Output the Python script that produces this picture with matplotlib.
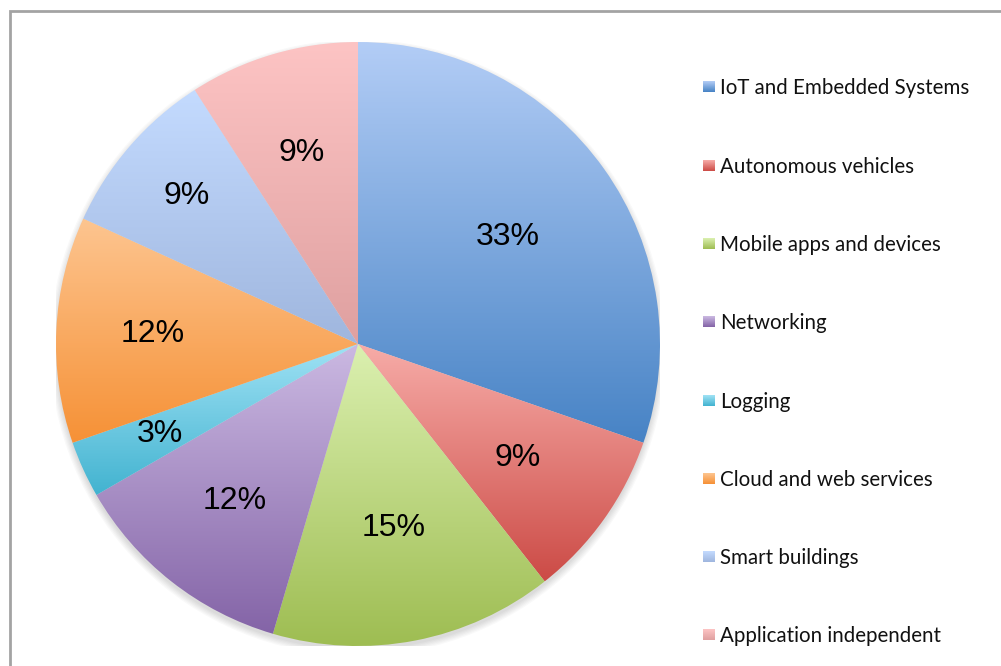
import numpy as np
import matplotlib.pyplot as plt
from matplotlib.colors import LinearSegmentedColormap
from matplotlib.patches import Circle

# slice sizes (number of papers), clockwise from 12 o'clock
categories = ['IoT and Embedded Systems', 'Autonomous vehicles', 'Mobile apps and devices',
              'Networking', 'Logging', 'Cloud and web services', 'Smart buildings',
              'Application independent']
counts = [10, 3, 5, 4, 1, 4, 3, 3]
pct_labels = ['33%', '9%', '15%', '12%', '3%', '12%', '9%', '9%']
# how far out each label sits (fraction of radius)
label_r = [0.61, 0.65, 0.62, 0.66, 0.72, 0.68, 0.75, 0.66]

# gradient colours (top, bottom) for each slice
top_colors = ['#b3cdf6', '#f7aca8', '#dbf0b0', '#cbb9e2', '#a0e2f5', '#fdc590', '#c4dbff', '#fdc4c4']
bottom_colors = ['#4783c5', '#cc4b46', '#9ebd52', '#8464a7', '#42b3d0', '#f69136', '#9fb6de', '#dfa0a0']

W, H = 1001, 666
fig = plt.figure(figsize=(W / 100, H / 100), dpi=100)

cx, cy, r = 358, 344, 302
ax = fig.add_axes([(cx - r) / W, (H - cy - r) / H, 2 * r / W, 2 * r / H])

# soft shadow under the pie
for k in range(6):
    ax.add_patch(Circle((0.0, -0.012), 1.0 + 0.004 * k, color='black', alpha=0.025, lw=0, zorder=0))

wedges, _ = ax.pie(counts, startangle=90, counterclock=False, radius=1,
                   wedgeprops=dict(linewidth=0))
ax.set_aspect('equal')
ax.axis('off')

grad = np.linspace(0, 1, 256).reshape(-1, 1)
for i, w in enumerate(wedges):
    t = np.radians(np.linspace(w.theta1, w.theta2, 200))
    ys = np.concatenate([[0], np.sin(t)])
    y0, y1 = ys.min(), ys.max()
    cmap = LinearSegmentedColormap.from_list('g%d' % i, [top_colors[i], bottom_colors[i]])
    w.set_facecolor('none')
    w.set_zorder(1)
    im = ax.imshow(grad, cmap=cmap, extent=[-1, 1, y0, y1], origin='upper',
                   aspect='auto', interpolation='bilinear', zorder=1)
    im.set_clip_path(w)
    mid = np.radians((w.theta1 + w.theta2) / 2)
    ax.text(label_r[i] * np.cos(mid), label_r[i] * np.sin(mid), pct_labels[i],
            ha='center', va='center', fontsize=23, family='Liberation Sans',
            color='black', zorder=3)
ax.set_xlim(-1, 1)
ax.set_ylim(-1, 1)

# overlay in pixel coordinates for frame and legend
ov = fig.add_axes([0, 0, 1, 1], zorder=5)
ov.axis('off')
ov.plot([10, 10, W + 5], [H + 5, 11, 11], color='#a3a3a3', lw=2, solid_joinstyle='miter')

leg_y = [87, 166, 244, 322, 401, 479, 557, 635]
sq = np.linspace(0, 1, 32).reshape(-1, 1)
for i, name in enumerate(categories):
    y = leg_y[i]
    cmap = LinearSegmentedColormap.from_list('l%d' % i, [top_colors[i], bottom_colors[i]])
    ov.imshow(sq, cmap=cmap, extent=[703, 715, y + 5, y - 6], aspect='auto', interpolation='bilinear')
    ov.text(720, y + 1, name, ha='left', va='center', fontsize=14.8, family='Lato', color='#111111')
ov.set_xlim(0, W)
ov.set_ylim(H, 0)

fig.savefig('out.png', dpi=100)
